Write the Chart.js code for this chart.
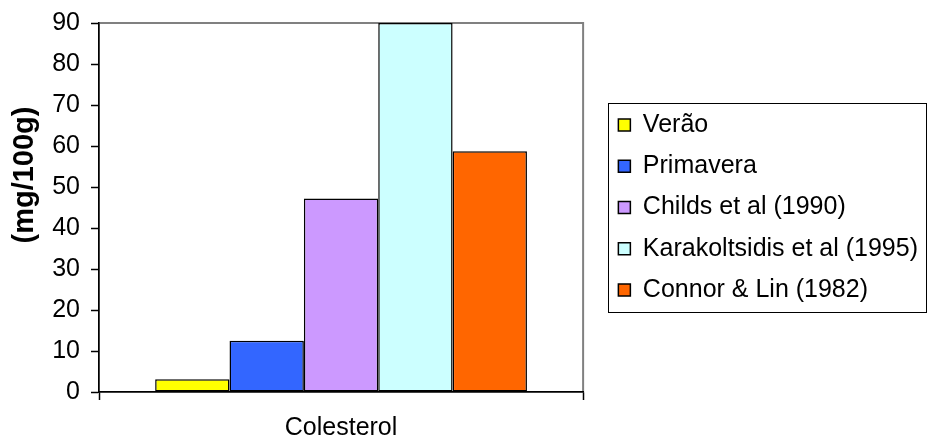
<!DOCTYPE html>
<html>
<head>
<meta charset="utf-8">
<script src="https://cdn.jsdelivr.net/npm/chart.js@4.4.1/dist/chart.umd.min.js"></script>
<style>
  html, body { margin: 0; padding: 0; background: #fff; }
  #wrap { width: 928px; height: 440px; }
</style>
</head>
<body>
<div id="wrap"><canvas id="chart" width="928" height="440"></canvas></div>
<script>
// data
const categories = ['Colesterol'];
const seriesNames = ['Verão', 'Primavera', 'Childs et al (1990)', 'Karakoltsidis et al (1995)', 'Connor & Lin (1982)'];
const seriesValues = [3.1, 12.5, 47.2, 90, 58.7];
const seriesColors = ['#FFFF00', '#3366FF', '#CC99FF', '#CCFFFF', '#FF6600'];
const yTicks = [0, 10, 20, 30, 40, 50, 60, 70, 80, 90];
const yTitle = '(mg/100g)';

const FONT = "'Liberation Sans', Arial, sans-serif";
Chart.defaults.font.family = FONT;
Chart.defaults.color = '#000';

// gray frame round the plot, box round the legend, y title
const framePlugin = {
    id: 'frames',
    beforeDraw(chart) {
        const a = chart.chartArea;
        const c = chart.ctx;
        c.save();
        c.strokeStyle = '#808080';
        c.lineWidth = 2;
        c.strokeRect(a.left, a.top, a.right - a.left, a.bottom - a.top);
        c.restore();
    },
    afterDraw(chart) {
        const c = chart.ctx;
        const lg = chart.legend;
        const boxes = lg.legendHitBoxes;
        if (boxes && boxes.length) {
            const left = boxes[0].left - 10;
            const top = boxes[0].top - 10;
            const last = boxes[boxes.length - 1];
            const bottom = last.top + last.height + 9;
            const right = chart.width - 1;
            c.save();
            c.strokeStyle = '#000';
            c.lineWidth = 1;
            c.strokeRect(Math.round(left) + 0.5, Math.round(top) + 0.5, Math.round(right - left) - 1, Math.round(bottom - top));
            c.restore();
        }
        const a = chart.chartArea;
        c.save();
        c.translate(a.left - 74, a.top + 152);
        c.rotate(-Math.PI / 2);
        c.font = 'bold 29px ' + FONT;
        c.fillStyle = '#000';
        c.textAlign = 'center';
        c.textBaseline = 'middle';
        c.fillText(yTitle, 0, 0);
        c.restore();
    }
};

const datasets = seriesNames.map((name, i) => ({
    label: name,
    data: [seriesValues[i]],
    backgroundColor: seriesColors[i],
    borderColor: '#000',
    borderWidth: 1.5,
    borderSkipped: false
}));

new Chart(document.getElementById('chart'), {
    type: 'bar',
    data: { labels: categories, datasets: datasets },
    options: {
        responsive: false,
        animation: false,
        devicePixelRatio: 1,
        layout: { padding: { top: 23, right: 0, bottom: 0, left: 0 } },
        datasets: {
            bar: { categoryPercentage: 0.768, barPercentage: 1 }
        },
        plugins: {
            tooltip: { enabled: false },
            legend: {
                position: 'right',
                fullSize: false,
                maxWidth: 420,
                labels: {
                    boxWidth: 12,
                    boxHeight: 12,
                    padding: 16.25,
                    font: { size: 25 },
                    color: '#000'
                }
            }
        },
        scales: {
            x: {
                offset: true,
                grid: { offset: true, drawOnChartArea: false, tickLength: 8, color: '#000', tickWidth: 1.5 },
                border: { color: '#000', width: 1.5 },
                ticks: { font: { size: 25 }, padding: 13, color: '#000' },
                afterFit: s => { s.height = 48; }
            },
            y: {
                min: 0,
                max: 90,
                afterBuildTicks: s => { s.ticks = yTicks.map(v => ({ value: v })); },
                grid: { drawOnChartArea: false, tickLength: 8, color: '#000', tickWidth: 1.5 },
                border: { color: '#000', width: 1.5 },
                ticks: { font: { size: 25 }, padding: 11, color: '#000' },
                afterFit: s => {
                    s.width = 99;
                    s.paddingTop = 0;
                    s.paddingBottom = 0;
                }
            },
            gap: {
                position: 'right',
                display: true,
                grid: { display: false },
                border: { display: false },
                ticks: { display: false },
                afterFit: s => {
                    s.width = 19;
                    s.paddingTop = 0;
                    s.paddingBottom = 0;
                }
            }
        }
    },
    plugins: [framePlugin]
});
</script>
</body>
</html>
